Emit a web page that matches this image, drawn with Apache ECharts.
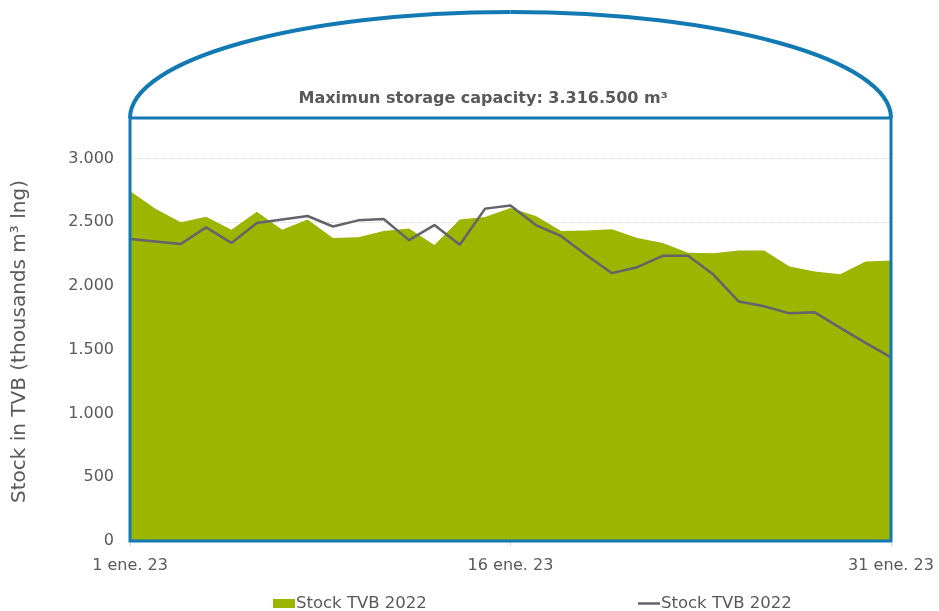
<!DOCTYPE html>
<html>
<head>
<meta charset="utf-8">
<title>Stock TVB</title>
<script src="https://cdn.jsdelivr.net/npm/echarts@6/dist/echarts.min.js"></script>
<style>
  html, body { margin: 0; padding: 0; background: #fff; }
  #main { width: 939px; height: 611px; }
</style>
</head>
<body>
<div id="main"></div>
<script>
// days of January 2023
var days = [];
for (var d = 1; d <= 31; d++) days.push(d + ' ene. 23');

// green area
var stockArea = [2745, 2605, 2500, 2543, 2440, 2582, 2440, 2521, 2375, 2382,
                 2430, 2451, 2320, 2521, 2540, 2610, 2548, 2430, 2435, 2445,
                 2375, 2336, 2260, 2257, 2278, 2278, 2152, 2113, 2092, 2192, 2199];
// grey line
var stockLine = [2367, 2348, 2328, 2459, 2336, 2493, 2521, 2548, 2466, 2514,
                 2524, 2359, 2477, 2323, 2606, 2630, 2477, 2390, 2241, 2100,
                 2147, 2236, 2236, 2089, 1877, 1840, 1785, 1793, 1671, 1553, 1440];

var legendNames = ['Stock TVB 2022', 'Stock TVB 2022'];
var maxCapacity = 3316.5;
var capacityText = 'Maximun storage capacity: 3.316.500 m³';

var blue = '#1379b3';
var green = '#9bb500';
var lineGrey = '#63636b';
var textGrey = '#595959';

function fmt(v) {
    return String(v).replace(/\B(?=(\d{3})+(?!\d))/g, '.');
}

var legendText = { fontSize: 16.5, color: textGrey, padding: [0, 0, 0, -4] };

var myChart = echarts.init(document.getElementById('main'));
var option = {
    animation: false,
    textStyle: { fontFamily: 'DejaVu Sans' },
    grid: { left: 130, right: 48, top: 118, bottom: 70 },
    legend: [
        {
            left: 268,
            top: 590,
            itemWidth: 22,
            itemHeight: 9,
            icon: 'rect',
            textStyle: legendText,
            formatter: function () { return legendNames[0]; },
            data: ['area']
        },
        {
            left: 633,
            top: 590,
            itemWidth: 22,
            itemHeight: 2.5,
            icon: 'rect',
            textStyle: legendText,
            formatter: function () { return legendNames[1]; },
            data: ['line']
        }
    ],
    xAxis: {
        type: 'category',
        data: days,
        boundaryGap: false,
        axisLine: { lineStyle: { color: '#d9d9d9' } },
        axisTick: { interval: 14, length: 5, lineStyle: { color: '#d9d9d9' } },
        axisLabel: { interval: 14, margin: 17, fontSize: 16, color: textGrey },
        splitLine: { show: false }
    },
    yAxis: {
        type: 'value',
        min: 0,
        max: maxCapacity,
        interval: 500,
        name: 'Stock in TVB (thousands m³ lng)',
        nameLocation: 'middle',
        nameGap: 100,
        nameTextStyle: { fontSize: 20, color: textGrey, padding: [0, 24, 0, 0] },
        axisLine: { show: false },
        axisTick: { show: false },
        axisLabel: {
            showMaxLabel: false,
            margin: 16,
            fontSize: 16,
            color: textGrey,
            formatter: function (v) { return fmt(v); }
        },
        splitLine: { lineStyle: { color: '#d9d9d9', type: 'dotted' } }
    },
    series: [
        {
            name: 'area',
            type: 'line',
            data: stockArea,
            symbol: 'none',
            lineStyle: { width: 0 },
            itemStyle: { color: green },
            areaStyle: { color: green, opacity: 1 }
        },
        {
            name: 'line',
            type: 'line',
            data: stockLine,
            symbol: 'none',
            lineStyle: { width: 2.5, color: lineGrey },
            itemStyle: { color: lineGrey }
        }
    ]
};
myChart.setOption(option);

// tank outline: box round the plot plus a dome on top
var tl = myChart.convertToPixel({ gridIndex: 0 }, [0, maxCapacity]);
var br = myChart.convertToPixel({ gridIndex: 0 }, [days.length - 1, 0]);
var w = br[0] - tl[0];
var cx = tl[0] + w / 2;
var rx = w / 2, ry = 106, k = 0.5523;
var domeTop = tl[1] - ry;

myChart.setOption({
    graphic: [
        {
            type: 'rect', z: 100,
            shape: { x: tl[0], y: tl[1], width: w, height: br[1] - tl[1] },
            style: { fill: 'none', stroke: blue, lineWidth: 3 }
        },
        {
            type: 'bezierCurve', z: 100,
            shape: { x1: tl[0], y1: tl[1], cpx1: tl[0], cpy1: tl[1] - k * ry,
                     cpx2: cx - k * rx, cpy2: domeTop, x2: cx, y2: domeTop },
            style: { fill: 'none', stroke: blue, lineWidth: 4 }
        },
        {
            type: 'bezierCurve', z: 100,
            shape: { x1: cx, y1: domeTop, cpx1: cx + k * rx, cpy1: domeTop,
                     cpx2: br[0], cpy2: tl[1] - k * ry, x2: br[0], y2: tl[1] },
            style: { fill: 'none', stroke: blue, lineWidth: 4 }
        },
        {
            type: 'text', z: 100,
            x: tl[0] + w * 0.464, y: tl[1] - 19,
            style: {
                text: capacityText,
                fill: textGrey,
                font: 'bold 16px "DejaVu Sans"',
                textAlign: 'center',
                textVerticalAlign: 'middle'
            }
        }
    ]
});
</script>
</body>
</html>
